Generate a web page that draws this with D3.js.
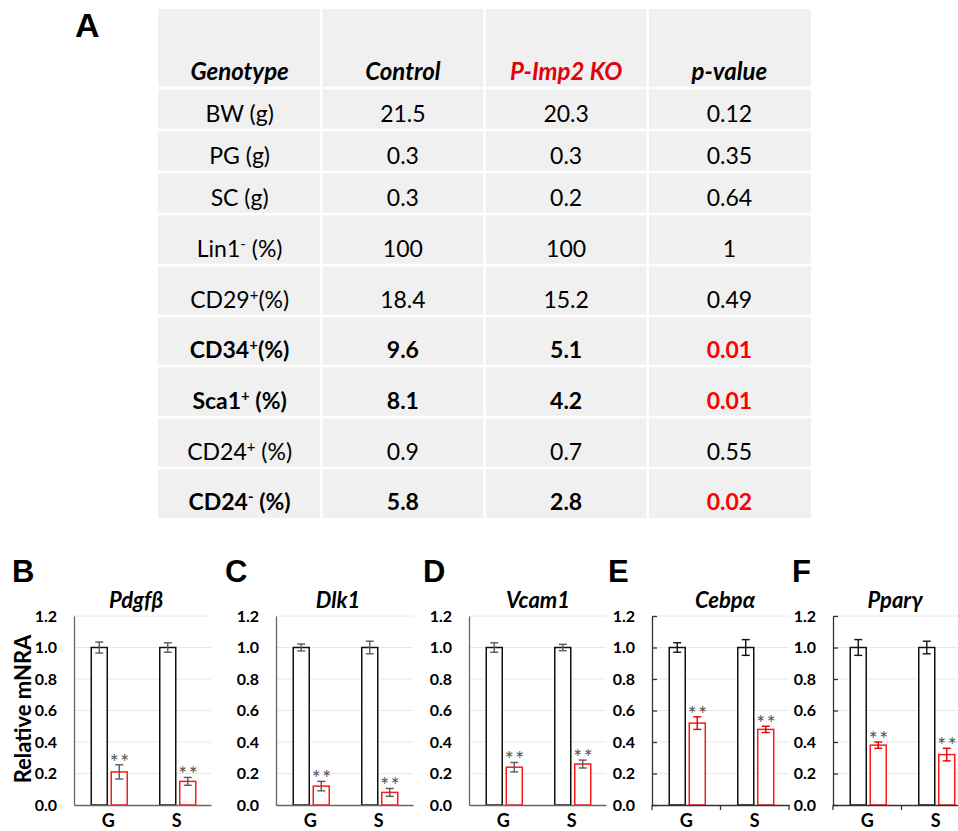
<!DOCTYPE html>
<html>
<head>
<meta charset="utf-8">
<script src="https://cdn.jsdelivr.net/npm/d3@7"></script>
<style>
  body { margin: 0; background: #fff; }
  text { font-family: Lato, "Open Sans", sans-serif; }
  .letter { font-family: "Liberation Sans", Arial, sans-serif; font-weight: bold; }
</style>
</head>
<body>
<div id="fig"></div>
<script>
// ---- datos tabla (A)
const headers = ['Genotype', 'Control', 'P-Imp2 KO', 'p-value'];
const rowNames = ['BW (g)', 'PG (g)', 'SC (g)', 'Lin1^- (%)', 'CD29^+(%)', 'CD34^+(%)', 'Sca1^+ (%)', 'CD24^+ (%)', 'CD24^- (%)'];
const controlVals = [21.5, 0.3, 0.3, 100, 18.4, 9.6, 8.1, 0.9, 5.8];
const koVals = [20.3, 0.3, 0.2, 100, 15.2, 5.1, 4.2, 0.7, 2.8];
const pVals = [0.12, 0.35, 0.64, 1, 0.49, 0.01, 0.01, 0.55, 0.02];

// ---- datos barras (B-F)
const genes = ['Pdgfβ', 'Dlk1', 'Vcam1', 'Cebpα', 'Pparγ'];
const panelLetters = ['B', 'C', 'D', 'E', 'F'];
const depots = ['G', 'S'];
const groups = ['Control', 'KO'];
const controlMean = [[1.0, 1.0], [1.0, 1.0], [1.0, 1.0], [1.0, 1.0], [1.0, 1.0]];
const controlErr = [[0.035, 0.03], [0.022, 0.04], [0.03, 0.02], [0.03, 0.05], [0.05, 0.04]];
const koMean = [[0.21, 0.15], [0.12, 0.08], [0.24, 0.26], [0.52, 0.48], [0.38, 0.32]];
const koErr = [[0.045, 0.025], [0.03, 0.025], [0.03, 0.025], [0.04, 0.02], [0.02, 0.04]];
const yTicks = [0, 0.2, 0.4, 0.6, 0.8, 1.0, 1.2];

// ---- layout
const width = 958;
const height = 831;
const tableLeft = 158;
const tableRight = 811;
const tableTop = 9;
const rowHeights = [79, 42, 42, 42, 51, 51, 50, 51, 51, 50];
const panelLeft = [74, 276, 469, 652, 833];
const plotW = 137;
const letterX = [12, 225, 423, 608, 792];
const titleX = [136, 338, 538, 725, 895];
const plotTop = 616;
const plotBottom = 805;

const svg = d3.select('#fig').append('svg')
  .attr('width', width)
  .attr('height', height);

// ================= Tabla =================
const tbl = svg.append('g').attr('class', 'tabla');

const xCol = d3.scaleBand()
  .domain(headers)
  .range([tableLeft, tableRight]);

const rowEdges = [tableTop].concat(Array.from(d3.cumsum(rowHeights), d => tableTop + d));

tbl.append('rect')
  .attr('x', tableLeft)
  .attr('y', tableTop)
  .attr('width', tableRight - tableLeft)
  .attr('height', rowEdges[rowEdges.length - 1] - tableTop)
  .attr('fill', '#f0f0f0');

// lineas blancas
tbl.selectAll('.hline')
  .data(rowEdges.slice(1, -1))
  .enter()
  .append('line')
  .attr('x1', tableLeft).attr('x2', tableRight)
  .attr('y1', d => d).attr('y2', d => d)
  .attr('stroke', '#fff').attr('stroke-width', 2.5);

tbl.selectAll('.vline')
  .data(headers.slice(1))
  .enter()
  .append('line')
  .attr('x1', d => xCol(d)).attr('x2', d => xCol(d))
  .attr('y1', tableTop).attr('y2', rowEdges[rowEdges.length - 1])
  .attr('stroke', '#fff').attr('stroke-width', 2.5);

// cabecera
tbl.selectAll('.head')
  .data(headers)
  .enter()
  .append('text')
  .attr('x', d => xCol(d) + xCol.bandwidth() / 2)
  .attr('y', rowEdges[1] - 8)
  .attr('text-anchor', 'middle')
  .attr('font-size', 24)
  .attr('font-weight', 'bold')
  .attr('font-style', 'italic')
  .attr('fill', d => d === 'P-Imp2 KO' ? '#e2000c' : '#000')
  .text(d => d);

// filas
rowNames.forEach((name, i) => {
  const base = rowEdges[i + 2] - 8;
  const sig = pVals[i] < 0.05;
  const weight = sig ? 'bold' : 'normal';

  const parts = name.split('^');
  const lab = tbl.append('text')
    .attr('x', xCol(headers[0]) + xCol.bandwidth() / 2)
    .attr('y', base)
    .attr('text-anchor', 'middle')
    .attr('font-size', 23)
    .attr('font-weight', weight);
  lab.append('tspan').text(parts[0]);
  if (parts.length > 1) {
    lab.append('tspan')
      .attr('dy', -8)
      .attr('font-size', 15)
      .text(parts[1].charAt(0));
    lab.append('tspan')
      .attr('dy', 8)
      .text(parts[1].slice(1));
  }

  const cells = [controlVals[i], koVals[i], pVals[i]];
  cells.forEach((v, j) => {
    tbl.append('text')
      .attr('x', xCol(headers[j + 1]) + xCol.bandwidth() / 2)
      .attr('y', base)
      .attr('text-anchor', 'middle')
      .attr('font-size', 23)
      .attr('font-weight', weight)
      .attr('fill', (j === 2 && sig) ? '#ff0000' : '#000')
      .text(String(v));
  });
});

svg.append('text')
  .attr('class', 'letter')
  .attr('x', 75)
  .attr('y', 37)
  .attr('font-size', 34)
  .text('A');

// ================= Barras =================
const y = d3.scaleLinear()
  .domain([0, 1.2])
  .range([plotBottom, plotTop]);

genes.forEach((gene, i) => {
  const left = panelLeft[i];
  const dark = i >= 3;   // E y F: ejes con ticks, error bars de color
  const axisColor = dark ? '#333' : '#666';
  const g = svg.append('g').attr('class', 'panel');

  const x0 = d3.scaleBand()
    .domain(depots)
    .range([left, left + plotW]);

  const x1 = d3.scaleBand()
    .domain(groups)
    .range([0, 36])
    .paddingInner(0.2);

  // grid
  g.selectAll('.grid')
    .data(yTicks.slice(1))
    .enter()
    .append('line')
    .attr('x1', left).attr('x2', left + plotW)
    .attr('y1', d => y(d)).attr('y2', d => y(d))
    .attr('stroke', '#e8e8e8').attr('stroke-width', 1);

  // datos del panel
  const data = [];
  depots.forEach((dep, k) => {
    data.push({ dep, grp: 'Control', mean: controlMean[i][k], err: controlErr[i][k] });
    data.push({ dep, grp: 'KO', mean: koMean[i][k], err: koErr[i][k] });
  });
  const bx = d => x0(d.dep) + x0.bandwidth() / 2 - 17 + x1(d.grp);

  g.selectAll('.bar')
    .data(data)
    .enter()
    .append('rect')
    .attr('x', bx)
    .attr('y', d => y(d.mean))
    .attr('width', x1.bandwidth())
    .attr('height', d => y(0) - y(d.mean))
    .attr('fill', '#fff')
    .attr('stroke', d => d.grp === 'KO' ? '#ff1a1a' : '#111')
    .attr('stroke-width', 1.5);

  // error bars
  const errColor = d => dark ? (d.grp === 'KO' ? '#e00000' : '#111') : '#5a5a5a';
  const eb = g.selectAll('.err')
    .data(data)
    .enter()
    .append('g')
    .attr('stroke', errColor)
    .attr('stroke-width', 1.4);
  eb.append('line')
    .attr('x1', d => bx(d) + x1.bandwidth() / 2).attr('x2', d => bx(d) + x1.bandwidth() / 2)
    .attr('y1', d => y(d.mean - d.err)).attr('y2', d => y(d.mean + d.err));
  eb.append('line')
    .attr('x1', d => bx(d) + x1.bandwidth() / 2 - 4).attr('x2', d => bx(d) + x1.bandwidth() / 2 + 4)
    .attr('y1', d => y(d.mean + d.err)).attr('y2', d => y(d.mean + d.err));
  eb.append('line')
    .attr('x1', d => bx(d) + x1.bandwidth() / 2 - 4).attr('x2', d => bx(d) + x1.bandwidth() / 2 + 4)
    .attr('y1', d => y(d.mean - d.err)).attr('y2', d => y(d.mean - d.err));

  // asteriscos
  g.selectAll('.star')
    .data(data.filter(d => d.grp === 'KO'))
    .enter()
    .append('text')
    .attr('x', d => bx(d) + x1.bandwidth() / 2 + 1)
    .attr('y', d => y(d.mean + d.err) + 5)
    .attr('text-anchor', 'middle')
    .attr('font-size', 21)
    .attr('letter-spacing', 1.5)
    .attr('fill', '#555')
    .text('**');

  // eje Y
  const yAxis = g.append('g')
    .attr('transform', `translate(${left},0)`)
    .call(d3.axisLeft(y)
      .tickValues(yTicks)
      .tickFormat(d3.format('.1f'))
      .tickSizeInner(dark ? -5 : 0)
      .tickSizeOuter(0)
      .tickPadding(17));
  yAxis.select('.domain').attr('stroke', axisColor).attr('stroke-width', 1.3);
  yAxis.selectAll('.tick line').attr('stroke', axisColor).attr('stroke-width', 1.3);
  yAxis.selectAll('.tick text')
    .attr('font-size', 16)
    .attr('font-weight', 'bold')
    .attr('font-family', 'Lato, sans-serif')
    .attr('fill', '#000');

  // eje X
  const xAxis = g.append('g')
    .attr('transform', `translate(0,${plotBottom})`)
    .call(d3.axisBottom(x0).tickSize(0).tickPadding(9));
  xAxis.select('.domain').attr('stroke', axisColor).attr('stroke-width', 1.3);
  xAxis.selectAll('.tick text')
    .attr('font-size', 18)
    .attr('font-weight', 'bold')
    .attr('font-family', 'Lato, sans-serif')
    .attr('fill', '#000');

  if (dark) {
    const edges = depots.map(d => x0(d)).concat([left + plotW]);
    xAxis.selectAll('.edge')
      .data(edges)
      .enter()
      .append('line')
      .attr('x1', d => d).attr('x2', d => d)
      .attr('y1', 0).attr('y2', 5)
      .attr('stroke', axisColor).attr('stroke-width', 1.3);
  }

  // titulo y letra
  g.append('text')
    .attr('x', titleX[i])
    .attr('y', 608)
    .attr('text-anchor', 'middle')
    .attr('font-size', 22)
    .attr('font-weight', 'bold')
    .attr('font-style', 'italic')
    .text(gene);

  g.append('text')
    .attr('class', 'letter')
    .attr('x', letterX[i])
    .attr('y', 582)
    .attr('font-size', 31)
    .text(panelLetters[i]);
});

// etiqueta eje Y
svg.append('text')
  .attr('transform', 'translate(31,709) rotate(-90)')
  .attr('text-anchor', 'middle')
  .attr('font-size', 22)
  .attr('font-weight', 'bold')
  .text('Relative mNRA');
</script>
</body>
</html>
